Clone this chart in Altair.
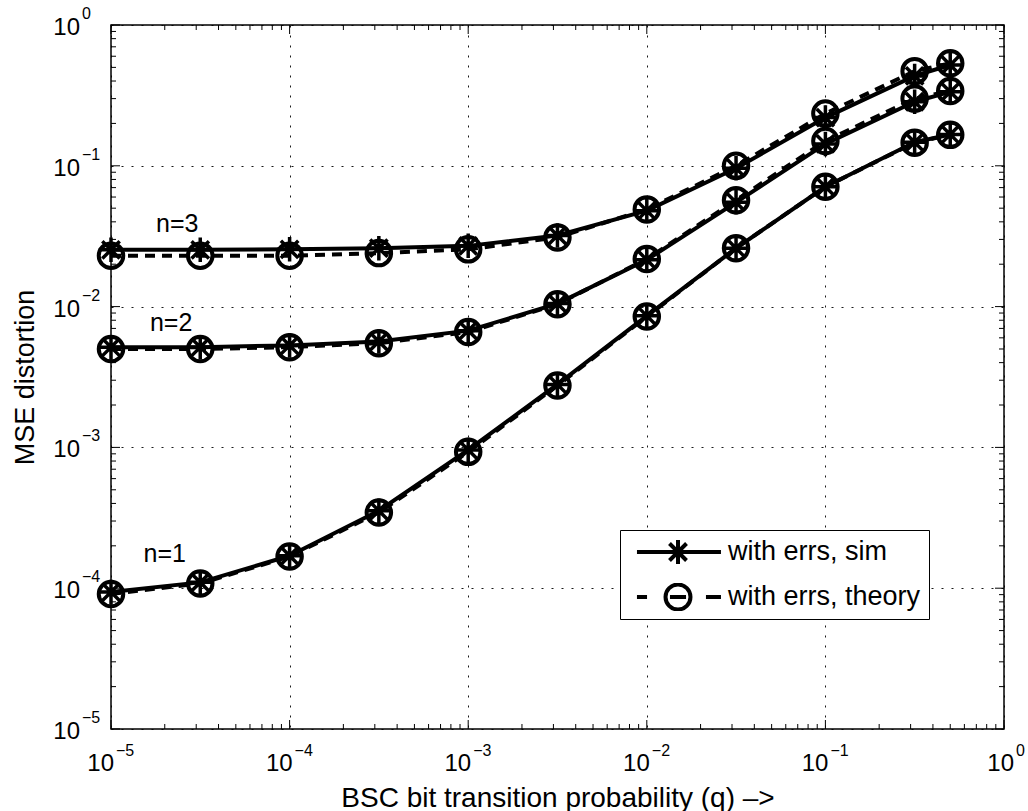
import altair as alt
import pandas as pd

# ---------------- data ----------------
q = [1e-5, 3.16e-5, 1e-4, 3.16e-4, 1e-3, 3.16e-3, 1e-2, 3.16e-2, 1e-1, 3.16e-1, 5e-1]

sim_n1 = [9.4e-5, 1.10e-4, 1.70e-4, 3.55e-4, 9.6e-4, 2.80e-3, 8.6e-3, 2.60e-2, 7.1e-2, 1.47e-1, 1.67e-1]
theory_n1 = [9.1e-5, 1.08e-4, 1.68e-4, 3.45e-4, 9.3e-4, 2.75e-3, 8.5e-3, 2.60e-2, 7.1e-2, 1.46e-1, 1.66e-1]

sim_n2 = [5.15e-3, 5.15e-3, 5.30e-3, 5.65e-3, 6.75e-3, 1.05e-2, 2.15e-2, 5.5e-2, 1.43e-1, 2.85e-1, 3.35e-1]
theory_n2 = [5.00e-3, 5.00e-3, 5.15e-3, 5.50e-3, 6.60e-3, 1.04e-2, 2.18e-2, 5.7e-2, 1.50e-1, 3.00e-1, 3.40e-1]

sim_n3 = [2.53e-2, 2.53e-2, 2.55e-2, 2.60e-2, 2.70e-2, 3.20e-2, 4.80e-2, 9.6e-2, 2.20e-1, 4.35e-1, 5.20e-1]
theory_n3 = [2.30e-2, 2.30e-2, 2.30e-2, 2.40e-2, 2.55e-2, 3.10e-2, 4.90e-2, 1.0e-1, 2.35e-1, 4.70e-1, 5.35e-1]

label_text = ["n=1", "n=2", "n=3"]
label_q = [2.0e-5, 2.17e-5, 2.35e-5]
label_mse = [1.76e-4, 7.6e-3, 3.84e-2]

major_ticks = [1e-5, 1e-4, 1e-3, 1e-2, 1e-1, 1e0]
tick_base = ["10", "10", "10", "10", "10", "10"]
tick_exp = ["\u22125", "\u22124", "\u22123", "\u22122", "\u22121", "0"]
minor_mult = [2, 3, 4, 5, 6, 7, 8, 9]
minor_ticks = [m * d for d in major_ticks[:-1] for m in minor_mult]

SIM = "with errs, sim"
THEORY = "with errs, theory"

rows = []
for n, s, t in [(1, sim_n1, theory_n1), (2, sim_n2, theory_n2), (3, sim_n3, theory_n3)]:
    for qi, si, ti in zip(q, s, t):
        rows.append({"q": qi, "mse": si, "n": n, "kind": SIM})
        rows.append({"q": qi, "mse": ti, "n": n, "kind": THEORY})
df = pd.DataFrame(rows)

# ---------------- styling ----------------
FONT = "Liberation Sans"
W, H = 893, 704

STAR = "M0,-1L0,1M-1,0L1,0M-0.71,-0.71L0.71,0.71M-0.71,0.71L0.71,-0.71"


def circle_path(cx, r):
    k = 0.5523 * r
    return (f"M{cx + r},0C{cx + r},{k} {cx + k},{r} {cx},{r}"
            f"C{cx - k},{r} {cx - r},{k} {cx - r},0"
            f"C{cx - r},{-k} {cx - k},{-r} {cx},{-r}"
            f"C{cx + k},{-r} {cx + r},{-k} {cx + r},0Z")


LEG_SIM = ("M-0.42,0L6.58,0M3,-1L3,1M2.29,-0.71L3.71,0.71M2.29,0.71L3.71,-0.71")
LEG_THEORY = ("M-0.42,0L0.42,0" + circle_path(3, 1.04) + "M2.33,0L3.67,0M5.33,0L6.58,0")

xscale = alt.Scale(type="log", domain=[1e-5, 1], nice=False)
yscale = alt.Scale(type="log", domain=[1e-5, 1], nice=False)

common_axis = dict(
    values=major_ticks, labels=False, grid=True, gridDash=[2, 8],
    gridColor="#000000", gridWidth=1, gridOpacity=0.9, ticks=False, tickSize=0,
    domain=False, titleFont=FONT, titleFontWeight="normal",
    titleColor="black", zindex=0,
)

x_axis = alt.Axis(
    title="BSC bit transition probability (q) \u2013>", titleFontSize=28,
    titleX=W / 2, titleY=77, titleBaseline="alphabetic",
    titleAlign="center", **common_axis)
y_axis = alt.Axis(
    title="MSE distortion", titleFontSize=27,
    titleX=-78, titleY=H / 2, titleAngle=-90, titleBaseline="alphabetic",
    titleAlign="center", **common_axis)

X = alt.X("q:Q", scale=xscale, axis=x_axis)
Y = alt.Y("mse:Q", scale=yscale, axis=y_axis)

base = alt.Chart(df).encode(x=X, y=Y)

sim_lines = base.transform_filter(alt.datum.kind == SIM).mark_line(
    color="black", strokeWidth=4, strokeJoin="round").encode(detail="n:N")
sim_pts = base.transform_filter(alt.datum.kind == SIM).mark_point(
    shape=STAR, filled=False, size=600, strokeWidth=3.5, color="black", opacity=1)
th_lines = base.transform_filter(alt.datum.kind == THEORY).mark_line(
    color="black", strokeWidth=4, strokeDash=[10, 7]).encode(detail="n:N")
th_pts = base.transform_filter(alt.datum.kind == THEORY).mark_point(
    shape="circle", filled=False, size=600, strokeWidth=4, color="black", opacity=1)

legend_proxy = base.mark_point(opacity=0, filled=False, strokeWidth=4, color="black").encode(
    shape=alt.Shape(
        "kind:N",
        scale=alt.Scale(domain=[SIM, THEORY], range=[LEG_SIM, LEG_THEORY]),
        legend=alt.Legend(
            title=None, orient="none", legendX=509, legendY=505,
            symbolSize=576, symbolStrokeWidth=4, symbolOpacity=1,
            symbolStrokeColor="black", labelFont=FONT, labelFontSize=27,
            labelColor="black", labelOffset=72, labelLimit=400, rowPadding=17,
            clipHeight=28, padding=8, strokeColor="black", fillColor="white",
            cornerRadius=0, zindex=2,
        ),
    )
)

labels = alt.Chart(pd.DataFrame({"q": label_q, "mse": label_mse, "text": label_text})).mark_text(
    font=FONT, fontSize=25, color="black", align="center", baseline="middle"
).encode(x=X, y=Y, text="text:N")

# ---- tick labels 10^k drawn as base + superscript ----
tl = pd.DataFrame({"q": major_ticks, "mse": major_ticks, "base": tick_base, "exp": tick_exp})
tl_src = alt.Chart(tl)
neg = alt.datum.exp != "0"
zero = alt.datum.exp == "0"
txt_big = dict(font=FONT, fontSize=24, color="black", baseline="alphabetic")
txt_small = dict(font=FONT, fontSize=16, color="black", baseline="alphabetic")

tick_label_layers = [
    tl_src.transform_filter(neg).mark_text(align="right", dx=3, **txt_big).encode(
        x=X, y=alt.value(H + 42), text="base:N"),
    tl_src.transform_filter(zero).mark_text(align="right", dx=10, **txt_big).encode(
        x=X, y=alt.value(H + 42), text="base:N"),
    tl_src.transform_filter(neg).mark_text(align="left", dx=5, **txt_small).encode(
        x=X, y=alt.value(H + 27), text="exp:N"),
    tl_src.transform_filter(zero).mark_text(align="left", dx=12, **txt_small).encode(
        x=X, y=alt.value(H + 27), text="exp:N"),
    tl_src.mark_text(align="right", dy=10, **txt_big).encode(
        y=Y, x=alt.value(-31), text="base:N"),
    tl_src.mark_text(align="left", dy=-6, **txt_small).encode(
        y=Y, x=alt.value(-29), text="exp:N"),
]

xt_major = alt.Chart(pd.DataFrame({"q": major_ticks}))
xt_minor = alt.Chart(pd.DataFrame({"q": minor_ticks}))
yt_major = alt.Chart(pd.DataFrame({"mse": major_ticks}))
yt_minor = alt.Chart(pd.DataFrame({"mse": minor_ticks}))

tick_layers = []
for src, length in [(xt_major, 9), (xt_minor, 5)]:
    tick_layers.append(src.mark_rule(color="black", strokeWidth=1).encode(
        x=X, y=alt.value(H), y2=alt.value(H - length)))
    tick_layers.append(src.mark_rule(color="black", strokeWidth=1).encode(
        x=X, y=alt.value(0), y2=alt.value(length)))
for src, length in [(yt_major, 9), (yt_minor, 5)]:
    tick_layers.append(src.mark_rule(color="black", strokeWidth=1).encode(
        y=Y, x=alt.value(0), x2=alt.value(length)))
    tick_layers.append(src.mark_rule(color="black", strokeWidth=1).encode(
        y=Y, x=alt.value(W), x2=alt.value(W - length)))

chart = alt.layer(
    *tick_layers, *tick_label_layers, sim_lines, sim_pts, th_lines, th_pts, labels, legend_proxy
).properties(
    width=W, height=H,
    autosize=alt.AutoSizeParams(type="none"),
    padding={"left": 111, "top": 25, "right": 24, "bottom": 82},
    background="white",
).configure_view(stroke="black", strokeWidth=1.5)

chart.save("out.html", embed_options={"renderer": "svg", "actions": False})
